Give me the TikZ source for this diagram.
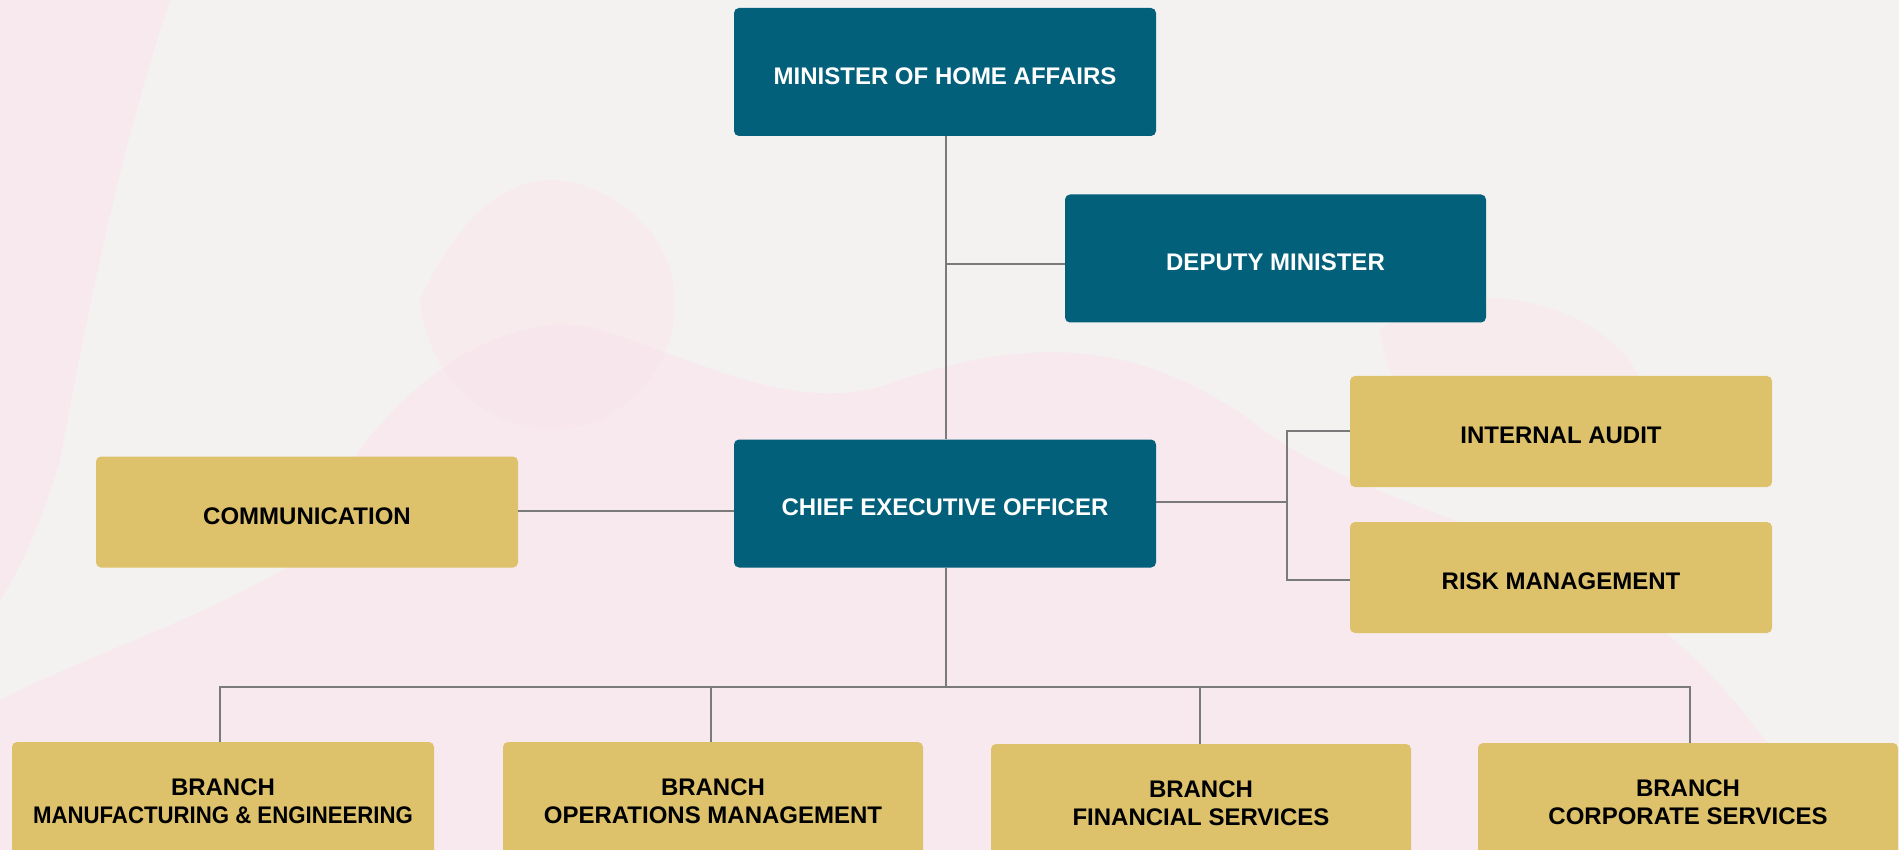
\documentclass[tikz,border=0pt]{standalone}
\usepackage{graphicx}
\usepackage{fontspec}
\setmainfont{Liberation Sans}
\begin{document}
\definecolor{teal}{HTML}{02607A}
\definecolor{gold}{HTML}{DDC26B}
\definecolor{linegray}{HTML}{7A7A7C}
\definecolor{bgbase}{HTML}{F4F1F1}
\definecolor{petal}{HTML}{FBE4EC}
\begin{tikzpicture}[x=1pt,y=-1pt,
  box/.style={rounded corners=5pt,inner sep=0pt,align=center,
    font=\fontsize{24}{28}\selectfont\bfseries},
  oneline/.style={text height=24.5pt,text depth=0pt},
  execbox/.style={box,oneline,fill=teal,text=white,minimum width=422pt,minimum height=128pt},
  unitbox/.style={box,fill=gold,text=black,minimum width=422pt},
  link/.style={draw=linegray,line width=1.3pt}]
\useasboundingbox (0,0) rectangle (1899,850);
\clip (0,0) rectangle (1899,850);
% soft floral backdrop
\fill[bgbase] (0,0) rectangle (1899,850);
\fill[petal,opacity=0.6] (0,0) -- (170,0) .. controls (120,150) and (90,300) .. (60,460) .. controls (30,560) and (0,600) .. (0,600) -- cycle;
\fill[petal,opacity=0.55] (300,560) .. controls (360,400) and (500,300) .. (600,330) .. controls (700,360) and (800,420) .. (900,380) .. controls (1050,330) and (1150,350) .. (1250,420) .. controls (1350,500) and (1500,520) .. (1620,600) .. controls (1700,650) and (1750,720) .. (1780,760) -- (1780,850) -- (0,850) -- (0,700) .. controls (100,650) and (200,620) .. (300,560) -- cycle;
\fill[petal,opacity=0.45] (420,300) .. controls (480,170) and (560,150) .. (640,220) .. controls (700,280) and (680,380) .. (600,420) .. controls (520,450) and (430,400) .. (420,300) -- cycle;
\fill[petal,opacity=0.45] (1380,330) .. controls (1450,280) and (1560,290) .. (1620,350) .. controls (1670,400) and (1640,470) .. (1560,470) .. controls (1470,470) and (1390,420) .. (1380,330) -- cycle;
% executive boxes
\node[execbox] (min) at (945,72) {MINISTER OF HOME AFFAIRS};
\node[execbox,minimum width=421pt] (dep) at (1275.5,258.5) {DEPUTY MINISTER};
\node[execbox] (ceo) at (945,503.5) {CHIEF EXECUTIVE OFFICER};
% staff units
\node[unitbox,oneline,minimum height=111pt] (comm) at (307,512) {COMMUNICATION};
\node[unitbox,oneline,minimum height=111pt] (audit) at (1561,431.5) {INTERNAL AUDIT};
\node[unitbox,oneline,minimum height=111pt] (risk) at (1561,577.5) {RISK MANAGEMENT};
% branches
\node[unitbox,minimum height=118pt] (b1) at (223,801) {BRANCH\\\scalebox{0.925}[1]{MANUFACTURING \& ENGINEERING}};
\node[unitbox,minimum height=118pt,minimum width=420pt] (b2) at (713,801) {BRANCH\\OPERATIONS MANAGEMENT};
\node[unitbox,minimum height=118pt,minimum width=420pt] (b3) at (1201,803) {BRANCH\\FINANCIAL SERVICES};
\node[unitbox,minimum height=118pt,minimum width=420pt] (b4) at (1688,802) {BRANCH\\CORPORATE SERVICES};
% connectors
\coordinate (spine) at (946,264);
\coordinate (fork) at (1287,502);
\coordinate (bus) at (946,687);
\draw[link] (min.south -| spine) -- (ceo.north -| spine);
\draw[link] (spine) -- (dep.west |- spine);
\draw[link] (comm.east |- 0,511) -- (ceo.west |- 0,511);
\draw[link] (ceo.east |- fork) -- (fork);
\draw[link] (audit.west |- 0,431) -- (fork |- 0,431) -- (fork |- 0,580) -- (risk.west |- 0,580);
\draw[link] (ceo.south -| spine) -- (bus);
\draw[link] (b1.north -| 220,0) -- (220,687) -- (1690,687) -- (b4.north -| 1690,0);
\draw[link] (711,687) -- (b2.north -| 711,0);
\draw[link] (1200,687) -- (b3.north -| 1200,0);
\end{tikzpicture}
\end{document}
